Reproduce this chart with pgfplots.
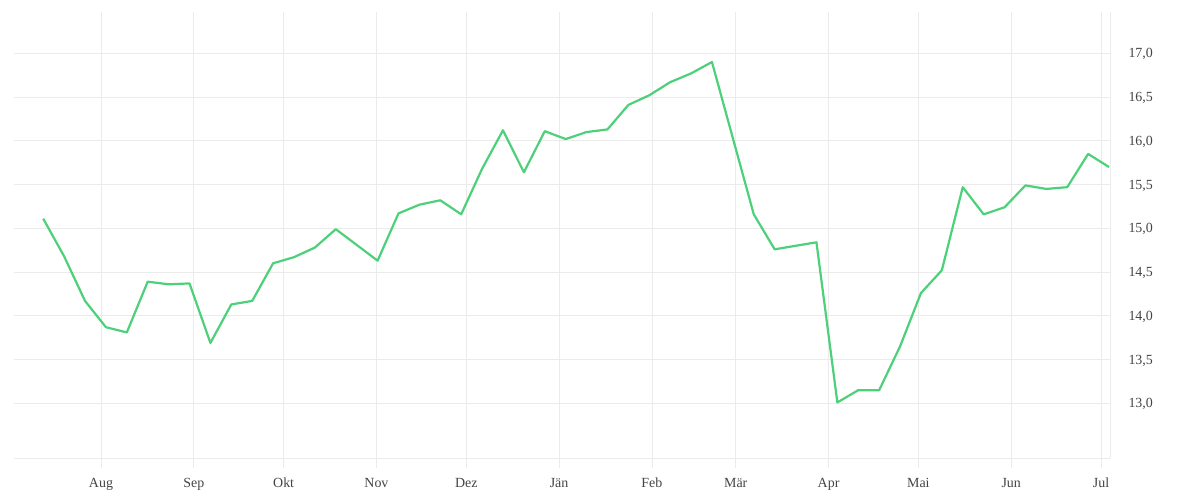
\documentclass[border=0pt]{standalone}
\usepackage{pgfplots}
\pgfplotsset{compat=1.18}
\usepackage{fontspec}
\setmainfont{Liberation Serif}
\definecolor{gridgray}{HTML}{EBEBEB}
\definecolor{labelgray}{HTML}{444444}
\definecolor{linegreen}{HTML}{4CD079}
\begin{document}
\begin{tikzpicture}[x=1bp,y=1bp]
% fixed page: 1200 x 500, axis box at (14,42)-(1110,488) in pixel terms
\useasboundingbox (-14bp,-42bp) rectangle (1186bp,458bp);
\begin{axis}[
    at={(0,0)}, anchor=south west,
    scale only axis,
    width=1096bp, height=446bp,
    xmin=-29.06, xmax=337.0,
    ymin=12.375, ymax=17.472,
    axis x line*=bottom,
    axis y line*=right,
    axis line style={draw=gridgray, line width=0.8bp, -},
    xtick={0,31,61,92,122,153,184,212,243,273,304,334},
    xticklabels={Aug,Sep,Okt,Nov,Dez,Jän,Feb,Mär,Apr,Mai,Jun,Jul},
    ytick={13,13.5,...,17},
    tick align=outside,
    xtick style={draw=gridgray, line width=0.8bp},
    ytick style={draw=none},
    major tick length=10bp,
    grid=major,
    grid style={gridgray, line width=0.8bp},
    yticklabel pos=right,
    tick label style={font=\fontsize{14}{16}\selectfont, text=labelgray},
    xticklabel style={text height=10bp, text depth=3bp, yshift=-6bp},
    yticklabel style={anchor=west, xshift=5bp, yshift=-1bp},
    /pgf/number format/.cd, fixed, fixed zerofill, precision=1, use comma,
    assume math mode=true, /tikz/.cd,
  ]
  \addplot[color=linegreen, line width=2.2bp, no markers, line join=round] coordinates {
    (-19.30,15.11) (-12.32,14.68) (-5.34,14.17) (1.64,13.87) (8.62,13.81)
    (15.60,14.39) (22.58,14.36) (29.56,14.37) (36.54,13.69) (43.52,14.13)
    (50.50,14.17) (57.48,14.60) (64.46,14.67) (71.44,14.78) (78.42,14.99)
    (85.40,14.81) (92.38,14.63) (99.36,15.17) (106.34,15.27) (113.32,15.32)
    (120.30,15.16) (127.28,15.68) (134.26,16.12) (141.24,15.64) (148.22,16.11)
    (155.20,16.02) (162.18,16.10) (169.16,16.13) (176.14,16.41) (183.12,16.52)
    (190.10,16.67) (197.08,16.77) (204.06,16.90) (211.04,16.03) (218.02,15.16)
    (225.00,14.76) (231.98,14.80) (238.96,14.84) (245.94,13.01) (252.92,13.15)
    (259.90,13.15) (266.88,13.65) (273.86,14.26) (280.84,14.52) (287.82,15.47)
    (294.80,15.16) (301.78,15.24) (308.76,15.49) (315.74,15.45) (322.72,15.47)
    (329.70,15.85) (336.68,15.70)
  };
\end{axis}
\end{tikzpicture}
\end{document}
